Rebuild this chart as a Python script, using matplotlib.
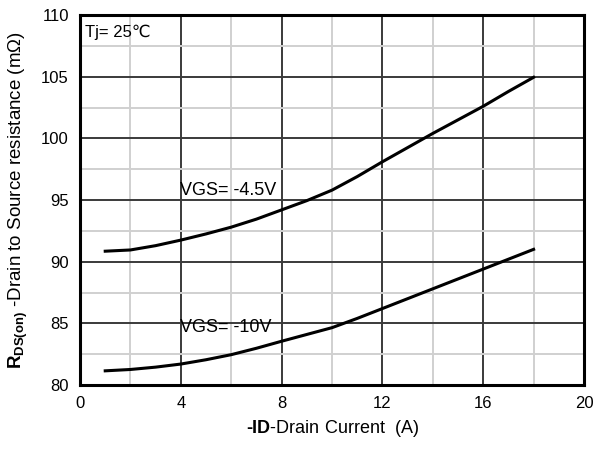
import matplotlib
matplotlib.use("Agg")
import matplotlib.pyplot as plt
from matplotlib.ticker import MultipleLocator

plt.rcParams["font.family"] = ["Liberation Sans", "DejaVu Sans"]
plt.rcParams["mathtext.fontset"] = "custom"
plt.rcParams["mathtext.rm"] = "Liberation Sans"
plt.rcParams["mathtext.bf"] = "Liberation Sans:bold"

# ── data ──────────────────────────────────────────────────────────────────
current = [1, 2, 3, 4, 5, 6, 7, 8, 9, 10, 11, 12, 13, 14, 15, 16, 17, 18]
rds_vgs_45 = [90.85, 90.95, 91.3, 91.75, 92.25, 92.8, 93.45, 94.2, 94.95,
              95.8, 96.9, 98.1, 99.25, 100.4, 101.5, 102.6, 103.8, 104.95]
rds_vgs_10 = [81.15, 81.26, 81.45, 81.7, 82.05, 82.46, 82.98, 83.55, 84.1,
              84.65, 85.4, 86.2, 87.0, 87.8, 88.6, 89.4, 90.2, 91.0]

fig = plt.figure(figsize=(5.95, 4.51), dpi=100)
ax = fig.add_axes([0.1345, 0.1463, 0.847, 0.8204])

ax.set_xlim(0, 20)
ax.set_ylim(80, 110)
ax.xaxis.set_major_locator(MultipleLocator(4))
ax.xaxis.set_minor_locator(MultipleLocator(2))
ax.yaxis.set_major_locator(MultipleLocator(5))
ax.yaxis.set_minor_locator(MultipleLocator(2.5))

ax.grid(which="minor", color="#d0d0d0", lw=1.4)
ax.grid(which="major", color="#3a3a3a", lw=1.4)
ax.set_axisbelow(True)
ax.tick_params(which="both", length=0, labelsize=12, pad=8)

for s in ax.spines.values():
    s.set_linewidth(2.2)
    s.set_color("black")

ax.plot(current, rds_vgs_45, color="black", lw=2.2, zorder=3)
ax.plot(current, rds_vgs_10, color="black", lw=2.2, zorder=3)

ax.text(3.95, 95.8, "VGS= -4.5V", fontsize=13, va="center", ha="left")
ax.text(3.95, 84.7, "VGS= -10V", fontsize=13, va="center", ha="left")
ax.text(0.2, 108.6, "Tj= 25\u2103", fontsize=12, va="center", ha="left",
        family=["Liberation Sans", "DejaVu Sans"])

ax.set_xlabel("$\\mathbf{\u2010ID}$-Drain Current  (A)", fontsize=13, labelpad=5)
ax.set_ylabel("$\\mathbf{R}_{\\mathbf{DS(on)}}$ -Drain to Source resistance (m\u03a9)",
              fontsize=13.5, labelpad=8)

fig.savefig("out.png", dpi=100, facecolor="white")
